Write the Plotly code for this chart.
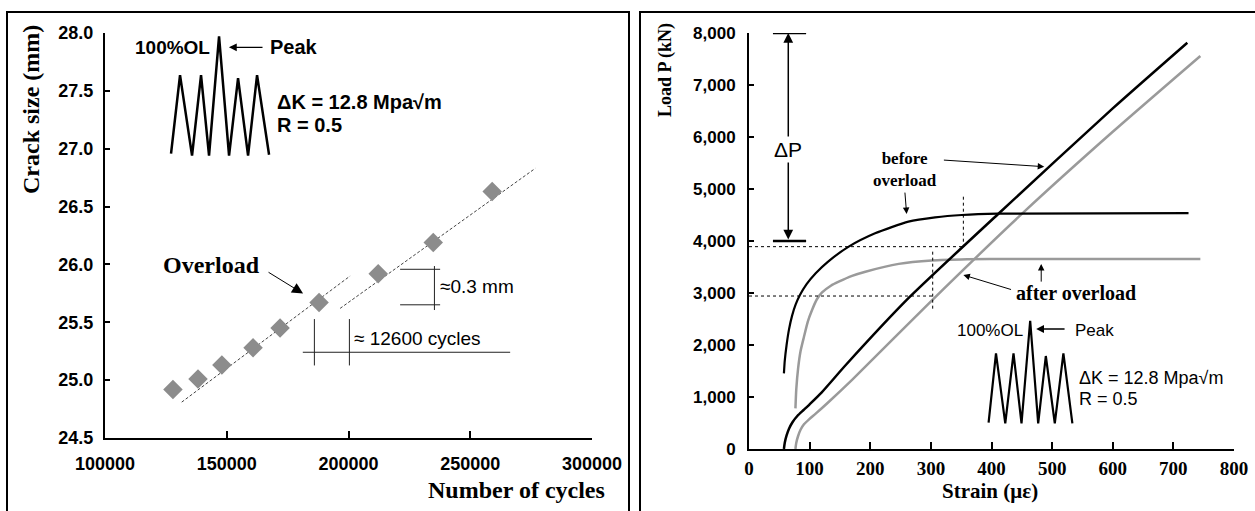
import plotly.graph_objects as go

# ---------------- Left panel data: crack size vs number of cycles ----------------
cycles = [127900, 138200, 148000, 160800, 171900, 187900, 212200, 234800, 259000]
crack_mm = [24.92, 25.01, 25.13, 25.28, 25.45, 25.67, 25.92, 26.19, 26.63]
fit1_x = [131500, 200660]
fit1_y = [24.81, 25.90]
fit2_x = [196550, 276700]
fit2_y = [25.62, 26.83]
left_xticks = [100000, 150000, 200000, 250000, 300000]
left_yticks = [24.5, 25.0, 25.5, 26.0, 26.5, 27.0, 27.5, 28.0]
# load-history sketch (inset)
wave1_x = [127116, 130814, 135744, 139442, 142728, 146837, 150945, 154643, 158751, 162449, 167379]
wave1_y = [26.957, 27.636, 26.940, 27.636, 26.940, 27.971, 26.940, 27.610, 26.940, 27.636, 26.948]

# ---------------- Right panel data: load vs strain ----------------
bo_line_strain = [57.6, 59, 62, 66, 72, 80, 90, 100, 120, 160, 263, 411, 600, 723]
bo_line_load = [0, 120, 260, 390, 520, 640, 750, 860, 1090, 1620, 2900, 4520, 6550, 7813]
ao_line_strain = [76.6, 78, 81, 85, 91, 99, 110, 130, 170, 301, 454, 600, 744.5]
ao_line_load = [0, 120, 250, 370, 480, 570, 680, 890, 1330, 2850, 4564, 6100, 7558]
bo_curve_strain = [57.6, 59, 62, 66, 71, 77, 84, 95, 110, 130, 164.5, 208, 263, 307, 351, 411, 725]
bo_curve_load = [1455, 1700, 2000, 2300, 2560, 2780, 2960, 3170, 3380, 3600, 3891, 4147, 4372, 4455, 4500, 4525, 4535]
ao_curve_strain = [76.6, 78, 81, 85, 90.5, 97, 104, 112, 120.5, 135, 148, 170, 192, 247, 301.5, 360, 427.6, 744.5]
ao_curve_load = [782, 1150, 1550, 1880, 2150, 2450, 2673, 2880, 3010, 3140, 3218, 3330, 3410, 3560, 3625, 3648, 3655, 3655]
right_xticks = [0, 100, 200, 300, 400, 500, 600, 700, 800]
right_yticks = [0, 1000, 2000, 3000, 4000, 5000, 6000, 7000, 8000]
wave2_x = [395.2, 407.4, 422.7, 436.3, 449.5, 463.8, 477.0, 489.6, 504.4, 518.6, 533.4]
wave2_y = [506, 1840, 494, 1840, 494, 2467, 494, 1788, 494, 1840, 494]

SANS = "Liberation Sans, Arial, sans-serif"
SERIF = "Liberation Serif, Times New Roman, serif"
W, H = 1255, 511

fig = go.Figure()

# left traces
fig.add_trace(go.Scatter(x=fit1_x, y=fit1_y, mode="lines",
                         line=dict(color="#444444", width=1, dash="3px,2px"), xaxis="x", yaxis="y"))
fig.add_trace(go.Scatter(x=fit2_x, y=fit2_y, mode="lines",
                         line=dict(color="#444444", width=1, dash="3px,2px"), xaxis="x", yaxis="y"))
fig.add_trace(go.Scatter(x=cycles, y=crack_mm, mode="markers",
                         marker=dict(symbol="diamond", size=15, color="#8c8c8c"), xaxis="x", yaxis="y"))
fig.add_trace(go.Scatter(x=wave1_x, y=wave1_y, mode="lines",
                         line=dict(color="black", width=2.5), xaxis="x", yaxis="y"))

# right traces
fig.add_trace(go.Scatter(x=ao_curve_strain, y=ao_curve_load, mode="lines", line_shape="spline",
                         line=dict(color="#9a9a9a", width=2.5, smoothing=0.6), xaxis="x2", yaxis="y2"))
fig.add_trace(go.Scatter(x=ao_line_strain, y=ao_line_load, mode="lines", line_shape="spline",
                         line=dict(color="#9a9a9a", width=2.5, smoothing=0.6), xaxis="x2", yaxis="y2"))
fig.add_trace(go.Scatter(x=bo_curve_strain, y=bo_curve_load, mode="lines", line_shape="spline",
                         line=dict(color="black", width=2.2, smoothing=0.6), xaxis="x2", yaxis="y2"))
fig.add_trace(go.Scatter(x=bo_line_strain, y=bo_line_load, mode="lines", line_shape="spline",
                         line=dict(color="black", width=2.5, smoothing=0.6), xaxis="x2", yaxis="y2"))
fig.add_trace(go.Scatter(x=wave2_x, y=wave2_y, mode="lines",
                         line=dict(color="black", width=2.2), xaxis="x2", yaxis="y2"))

axis_common = dict(showline=True, linecolor="black", linewidth=2, mirror=False, automargin=False,
                   showgrid=False, zeroline=False, ticks="inside", tickcolor="black",
                   tickwidth=2)

fig.update_layout(
    width=W, height=H, margin=dict(l=0, r=0, t=0, b=0, autoexpand=False),
    paper_bgcolor="white", plot_bgcolor="white", showlegend=False,
    xaxis=dict(domain=[105 / W, 592 / W], range=[100000, 300000], tickvals=left_xticks,
               tickformat="d", ticklen=7, ticklabelstandoff=8,
               tickfont=dict(family=SANS, size=18, color="black", weight="bold"),
               anchor="y", **axis_common),
    yaxis=dict(domain=[1 - 438 / H, 1 - 33 / H], range=[24.5, 28.0], tickvals=left_yticks,
               tickformat=".1f", ticklen=5, ticklabelstandoff=6,
               tickfont=dict(family=SANS, size=18, color="black", weight="bold"),
               anchor="x", **axis_common),
    xaxis2=dict(domain=[749 / W, 1234 / W], range=[0, 800], tickvals=right_xticks,
                tickformat="d", ticklen=7, ticklabelstandoff=1,
                tickfont=dict(family=SERIF, size=19, color="black", weight="bold"),
                anchor="y2", **axis_common),
    yaxis2=dict(domain=[1 - 449 / H, 1 - 33 / H], range=[0, 8000], tickvals=right_yticks,
                tickformat=",d", ticklen=5, ticklabelstandoff=8,
                tickfont=dict(family=SANS, size=17, color="black", weight="bold"),
                anchor="x2", **axis_common),
)

# panel frames
fig.add_shape(type="rect", xref="paper", yref="paper", x0=7 / W, x1=629 / W, y0=-0.05, y1=1 - 12 / H,
              line=dict(color="black", width=2))
fig.add_shape(type="rect", xref="paper", yref="paper", x0=640 / W, x1=1.02, y0=-0.05, y1=1 - 12 / H,
              line=dict(color="black", width=2))

# left annotation lines
thin = dict(color="#222222", width=1)
for (x0, y0, x1, y1) in [(221200, 25.958, 237630, 25.958), (221200, 25.651, 237630, 25.651),
                         (235290, 25.986, 235290, 25.606), (185990, 25.528, 185990, 25.127),
                         (200370, 25.528, 200370, 25.127), (181230, 25.241, 266390, 25.241)]:
    fig.add_shape(type="line", xref="x", yref="y", x0=x0, y0=y0, x1=x1, y1=y1, line=thin)

# right annotation lines
for (x0, y0, x1, y1) in [(39.5, 8000, 94.2, 8000), (39.5, 4000, 94.2, 4000)]:
    fig.add_shape(type="line", xref="x2", yref="y2", x0=x0, y0=y0, x1=x1, y1=y1,
                  line=dict(color="black", width=2.5))
dash = dict(color="black", width=1, dash="3px,3px")
for (x0, y0, x1, y1) in [(0, 3891, 353.6, 3891), (353.6, 4852, 353.6, 3891),
                         (0, 2942, 303, 2942), (303, 3795, 303, 2673)]:
    fig.add_shape(type="line", xref="x2", yref="y2", x0=x0, y0=y0, x1=x1, y1=y1, line=dash)

ann = []
# ---- left texts
ann.append(dict(xref="paper", yref="paper", x=31 / W, y=1 - 110 / H, xanchor="center", yanchor="middle",
                text="<b>Crack size (mm)</b>", textangle=-90, showarrow=False,
                font=dict(family=SERIF, size=24, color="black")))
ann.append(dict(xref="paper", yref="paper", x=607 / W, y=1 - 490 / H, xanchor="right", yanchor="middle",
                text="<b>Number of cycles</b>", showarrow=False,
                font=dict(family=SERIF, size=24, color="black")))
ann.append(dict(xref="x", yref="y", x=143960, y=27.876, xanchor="right", text="<b>100%OL</b>",
                showarrow=False, font=dict(family=SANS, size=19, color="black")))
ann.append(dict(xref="x", yref="y", x=166970, y=27.876, xanchor="left", text="<b>Peak</b>",
                showarrow=False, font=dict(family=SANS, size=20, color="black")))
ann.append(dict(xref="x", yref="y", x=150900, y=27.876, axref="x", ayref="y", ax=165300, ay=27.876,
                text="", showarrow=True, arrowhead=2, arrowsize=1.2, arrowwidth=1.3, arrowcolor="black"))
ann.append(dict(xref="x", yref="y", x=169840, y=27.404, xanchor="left",
                text="<b>\u0394K = 12.8 Mpa\u221am</b>", showarrow=False,
                font=dict(family=SANS, size=20, color="black")))
ann.append(dict(xref="x", yref="y", x=169840, y=27.206, xanchor="left", text="<b>R = 0.5</b>",
                showarrow=False, font=dict(family=SANS, size=20, color="black")))
ann.append(dict(xref="x", yref="y", x=143550, y=25.995, text="<b>Overload</b>", showarrow=False,
                font=dict(family=SERIF, size=24, color="black")))
ann.append(dict(xref="x", yref="y", x=181350, y=25.748, axref="x", ayref="y", ax=166550, ay=25.94,
                text="", showarrow=True, arrowhead=2, arrowsize=2.2, arrowwidth=1, arrowcolor="black"))
ann.append(dict(xref="x", yref="y", x=236810, y=25.806, xanchor="left", text="\u22480.3 mm",
                showarrow=False, font=dict(family=SANS, size=19, color="black")))
ann.append(dict(xref="x", yref="y", x=201500, y=25.357, xanchor="left", text="\u2248 12600 cycles",
                showarrow=False, font=dict(family=SANS, size=19, color="black")))

# ---- right texts
ann.append(dict(xref="paper", yref="paper", x=665 / W, y=1 - 70 / H, xanchor="center", yanchor="middle",
                text="<b>Load P (kN)</b>", textangle=-90, showarrow=False,
                font=dict(family=SERIF, size=18, color="black")))
ann.append(dict(xref="paper", yref="paper", x=990 / W, y=1 - 491 / H, xanchor="center", yanchor="middle",
                text="<b>Strain (\u03bc\u03b5)</b>", showarrow=False,
                font=dict(family=SERIF, size=21, color="black")))
ann.append(dict(xref="x2", yref="y2", x=64.8, y=8000, axref="x2", ayref="y2", ax=64.8, ay=4000,
                text="", showarrow=True, arrowhead=2, arrowside="end+start", arrowsize=1.3,
                arrowwidth=1.5, arrowcolor="black"))
ann.append(dict(xref="x2", yref="y2", x=64.8, y=5750, text="\u0394P", showarrow=False, bgcolor="white",
                font=dict(family=SANS, size=21, color="black")))
ann.append(dict(xref="x2", yref="y2", x=257, y=5375, text="<b>before<br>overload</b>", showarrow=False,
                align="center", font=dict(family=SERIF, size=17, color="black")))
ann.append(dict(xref="x2", yref="y2", x=260, y=4520, axref="x2", ayref="y2", ax=257, ay=4960,
                text="", showarrow=True, arrowhead=2, arrowsize=1.3, arrowwidth=1, arrowcolor="black"))
ann.append(dict(xref="x2", yref="y2", x=487, y=5429, axref="x2", ayref="y2", ax=319, ay=5558,
                text="", showarrow=True, arrowhead=2, arrowsize=1.3, arrowwidth=1, arrowcolor="black"))
ann.append(dict(xref="x2", yref="y2", x=540, y=3000, text="<b>after overload</b>", showarrow=False,
                font=dict(family=SERIF, size=20, color="black")))
ann.append(dict(xref="x2", yref="y2", x=482, y=3560, axref="x2", ayref="y2", ax=482, ay=3190,
                text="", showarrow=True, arrowhead=2, arrowsize=1.3, arrowwidth=1, arrowcolor="black"))
ann.append(dict(xref="x2", yref="y2", x=353.6, y=3346, axref="x2", ayref="y2", ax=434.7, ay=3058,
                text="", showarrow=True, arrowhead=2, arrowsize=1.3, arrowwidth=1, arrowcolor="black"))
ann.append(dict(xref="x2", yref="y2", x=455.6, y=2288, xanchor="right", text="100%OL",
                showarrow=False, font=dict(family=SANS, size=17, color="black")))
ann.append(dict(xref="x2", yref="y2", x=534.5, y=2288, xanchor="left", text="Peak",
                showarrow=False, font=dict(family=SANS, size=17, color="black")))
ann.append(dict(xref="x2", yref="y2", x=473.7, y=2308, axref="x2", ayref="y2", ax=523, ay=2308,
                text="", showarrow=True, arrowhead=2, arrowsize=1.2, arrowwidth=1.3, arrowcolor="black"))
ann.append(dict(xref="x2", yref="y2", x=541, y=1365, xanchor="left", text="\u0394K = 12.8 Mpa\u221am",
                showarrow=False, font=dict(family=SANS, size=18, color="black")))
ann.append(dict(xref="x2", yref="y2", x=541, y=962, xanchor="left", text="R = 0.5",
                showarrow=False, font=dict(family=SANS, size=18, color="black")))

fig.update_layout(annotations=ann)
fig.write_html("out.html", config={"displayModeBar": False},
               post_script="document.body.style.margin='0';document.body.style.padding='0';")
